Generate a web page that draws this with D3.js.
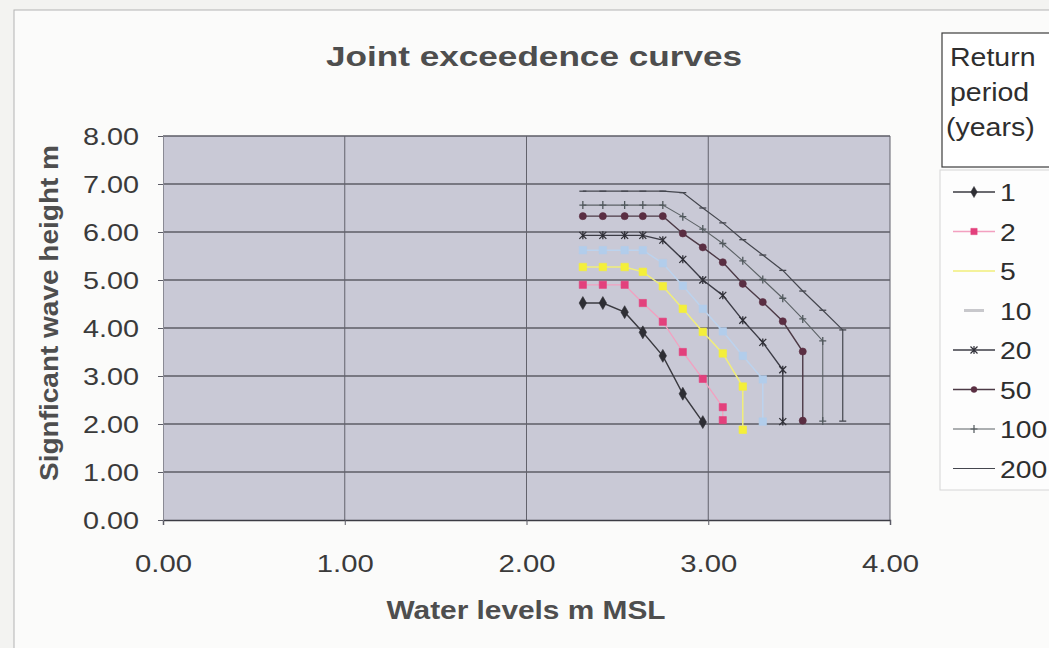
<!DOCTYPE html>
<html>
<head>
<meta charset="utf-8">
<script src="https://cdn.jsdelivr.net/npm/d3@7/dist/d3.min.js"></script>
<style>
  html, body { margin: 0; padding: 0; background: #f3f3f1; }
  svg { display: block; }
  text { font-family: "Liberation Sans", Arial, Helvetica, sans-serif; }
</style>
</head>
<body>
<svg id="chart" width="1049" height="648"></svg>
<script>
// Return periods (years) shown in the legend
const returnPeriods = ["1", "2", "5", "10", "20", "50", "100", "200"];

// Water level (m MSL) and significant wave height (m) for each return period
const rp1_wl   = [2.31, 2.42, 2.54, 2.64, 2.75, 2.86, 2.97];
const rp1_hs   = [4.52, 4.52, 4.33, 3.91, 3.42, 2.63, 2.04];
const rp2_wl   = [2.31, 2.42, 2.54, 2.64, 2.75, 2.86, 2.97, 3.08, 3.08];
const rp2_hs   = [4.90, 4.90, 4.90, 4.52, 4.13, 3.50, 2.94, 2.35, 2.08];
const rp5_wl   = [2.31, 2.42, 2.54, 2.64, 2.75, 2.86, 2.97, 3.08, 3.19, 3.19];
const rp5_hs   = [5.27, 5.27, 5.27, 5.17, 4.87, 4.40, 3.92, 3.47, 2.78, 1.88];
const rp10_wl  = [2.31, 2.42, 2.54, 2.64, 2.75, 2.86, 2.97, 3.08, 3.19, 3.30, 3.30];
const rp10_hs  = [5.62, 5.62, 5.62, 5.62, 5.35, 4.88, 4.40, 3.93, 3.42, 2.93, 2.05];
const rp20_wl  = [2.31, 2.42, 2.54, 2.64, 2.75, 2.86, 2.97, 3.08, 3.19, 3.30, 3.41, 3.41];
const rp20_hs  = [5.93, 5.93, 5.93, 5.93, 5.83, 5.43, 5.00, 4.68, 4.16, 3.70, 3.13, 2.05];
const rp50_wl  = [2.31, 2.42, 2.54, 2.64, 2.75, 2.86, 2.97, 3.08, 3.19, 3.30, 3.41, 3.52, 3.52];
const rp50_hs  = [6.33, 6.33, 6.33, 6.33, 6.33, 5.97, 5.68, 5.37, 4.92, 4.54, 4.14, 3.51, 2.07];
const rp100_wl = [2.31, 2.42, 2.54, 2.64, 2.75, 2.86, 2.97, 3.08, 3.19, 3.30, 3.41, 3.52, 3.63, 3.63];
const rp100_hs = [6.56, 6.56, 6.56, 6.56, 6.56, 6.32, 6.06, 5.76, 5.40, 5.01, 4.62, 4.19, 3.73, 2.06];
const rp200_wl = [2.31, 2.42, 2.54, 2.64, 2.75, 2.86, 2.97, 3.08, 3.19, 3.30, 3.41, 3.52, 3.63, 3.74, 3.74];
const rp200_hs = [6.85, 6.85, 6.85, 6.85, 6.85, 6.82, 6.50, 6.19, 5.84, 5.52, 5.20, 4.77, 4.37, 3.96, 2.06];

// Axis ticks
const xTicks = [0, 1, 2, 3, 4];
const yTicks = [0, 1, 2, 3, 4, 5, 6, 7, 8];

// Per-series drawing style
const seriesStyle = {
  "1":   { line: "#3a3a40", mark: "#2e2e34", shape: "diamond", lw: 1.4, size: 48 },
  "2":   { line: "#f3a0c0", mark: "#e3407c", shape: "square",  lw: 1.3, size: 52 },
  "5":   { line: "#f1ee7a", mark: "#f4ef3a", shape: "square",  lw: 1.5, size: 56 },
  "10":  { line: "#bcd3ee", mark: "#b2cdeb", shape: "square",  lw: 1.5, size: 56 },
  "20":  { line: "#3c3c46", mark: "#303038", shape: "cross",   lw: 1.4, size: 0 },
  "50":  { line: "#4c3a46", mark: "#5a2e42", shape: "circle",  lw: 1.4, size: 40 },
  "100": { line: "#5c6266", mark: "#50585c", shape: "plus",    lw: 1.1, size: 0 },
  "200": { line: "#44464e", mark: "#44464e", shape: "dash",    lw: 1.2, size: 0 }
};

const seriesWl = [rp1_wl, rp2_wl, rp5_wl, rp10_wl, rp20_wl, rp50_wl, rp100_wl, rp200_wl];
const seriesHs = [rp1_hs, rp2_hs, rp5_hs, rp10_hs, rp20_hs, rp50_hs, rp100_hs, rp200_hs];
const series = returnPeriods.map((rp, i) => ({
  rp,
  points: seriesWl[i].map((w, j) => ({ wl: w, hs: seriesHs[i][j] }))
}));

const svg = d3.select("#chart");

// Glyphs in this chart are drawn a little wider than the font's natural width
function widen(sel, k) {
  sel.each(function () {
    const w = this.getComputedTextLength();
    d3.select(this).attr("textLength", w * k).attr("lengthAdjust", "spacingAndGlyphs");
  });
}

// Chart canvas
svg.append("rect").attr("x", 14).attr("y", 10).attr("width", 1040).attr("height", 645)
  .attr("fill", "#fbfbfa").attr("stroke", "#b4b4b4").attr("stroke-width", 1);

const x = d3.scaleLinear().domain([0, 4]).range([163, 890]);
const y = d3.scaleLinear().domain([0, 8]).range([520, 136]);

// Plot area
svg.append("rect")
  .attr("x", x(0)).attr("y", y(8))
  .attr("width", x(4) - x(0)).attr("height", y(0) - y(8))
  .attr("fill", "#c9c9d6");

// Gridlines
svg.append("g").selectAll("line").data(yTicks.slice(1)).join("line")
  .attr("x1", x(0)).attr("x2", x(4))
  .attr("y1", d => y(d)).attr("y2", d => y(d))
  .attr("stroke", "#5c5c66").attr("stroke-width", 1.3);
svg.append("g").selectAll("line").data(xTicks.slice(1)).join("line")
  .attr("x1", d => x(d)).attr("x2", d => x(d))
  .attr("y1", y(8)).attr("y2", y(0))
  .attr("stroke", "#62626c").attr("stroke-width", 1);

// Axes
const fmt = d3.format(".2f");
const gx = svg.append("g").attr("transform", `translate(0,${y(0)})`)
  .call(d3.axisBottom(x).tickValues(xTicks).tickFormat(fmt).tickSize(5).tickPadding(30));
const gy = svg.append("g").attr("transform", `translate(${x(0)},0)`)
  .call(d3.axisLeft(y).tickValues(yTicks).tickFormat(fmt).tickSize(5).tickPadding(19));

[gx, gy].forEach(g => {
  g.select(".domain").attr("stroke", "#3c3c44").attr("stroke-width", 1.4);
  g.selectAll(".tick line").attr("stroke", "#5c5c66");
  g.selectAll(".tick text")
    .attr("fill", "#3a3a3a")
    .style("font-size", "24px")
    .style("font-family", '"Liberation Sans", Arial, sans-serif');
});
gy.select(".domain").attr("stroke", "#8a8a94").attr("stroke-width", 1);
gy.selectAll(".tick text").attr("dy", "0.36em");
widen(gx.selectAll(".tick text"), 1.22);
widen(gy.selectAll(".tick text"), 1.2);

// Marker shapes
function markerPath(shape, size) {
  switch (shape) {
    case "diamond": return d3.symbol(d3.symbolDiamond, size)();
    case "square":  return d3.symbol(d3.symbolSquare, size)();
    case "circle":  return d3.symbol(d3.symbolCircle, size)();
    case "cross":   return "M-3.5,-3.5L3.5,3.5M-3.5,3.5L3.5,-3.5M0,-4L0,4";
    case "plus":    return "M-3.5,0L3.5,0M0,-4L0,4";
    case "dash":    return "M-3.5,0L3.5,0";
  }
}
const strokeShapes = new Set(["cross", "plus", "dash"]);

const line = d3.line().x(d => x(d.wl)).y(d => y(d.hs));

const gSeries = svg.append("g");
series.forEach(s => {
  const st = seriesStyle[s.rp];
  gSeries.append("path").datum(s.points)
    .attr("d", line).attr("fill", "none")
    .attr("stroke", st.line).attr("stroke-width", st.lw);
  gSeries.append("g").selectAll("path").data(s.points).join("path")
    .attr("transform", d => `translate(${x(d.wl)},${y(d.hs)})`)
    .attr("d", markerPath(st.shape, st.size))
    .attr("fill", strokeShapes.has(st.shape) ? "none" : st.mark)
    .attr("stroke", st.mark)
    .attr("stroke-width", strokeShapes.has(st.shape) ? 1.3 : 0.6);
});

// Titles
svg.append("text")
  .attr("x", 534).attr("y", 66).attr("text-anchor", "middle")
  .attr("fill", "#4e4e4e").style("font-size", "28px").style("font-weight", "bold")
  .attr("textLength", 416).attr("lengthAdjust", "spacingAndGlyphs")
  .text("Joint exceedence curves");

svg.append("text")
  .attr("x", 526).attr("y", 619).attr("text-anchor", "middle")
  .attr("fill", "#4e4e4e").style("font-size", "26px").style("font-weight", "bold")
  .attr("textLength", 279).attr("lengthAdjust", "spacingAndGlyphs")
  .text("Water levels m MSL");

svg.append("text")
  .attr("transform", "translate(58,313) rotate(-90)")
  .attr("text-anchor", "middle")
  .attr("fill", "#4e4e4e").style("font-size", "25px").style("font-weight", "bold")
  .attr("textLength", 336).attr("lengthAdjust", "spacingAndGlyphs")
  .text("Signficant wave height m");

// Legend title box
svg.append("rect").attr("x", 942).attr("y", 33).attr("width", 130).attr("height", 134)
  .attr("fill", "#ffffff").attr("stroke", "#3c3c3c").attr("stroke-width", 1.2);
const legTitle = svg.append("g").selectAll("text")
  .data(["Return", "period", "(years)"]).join("text")
  .attr("x", (d, i) => i === 2 ? 946 : 950)
  .attr("y", (d, i) => 66 + i * 35)
  .attr("fill", "#2e2e2e").style("font-size", "25px")
  .text(d => d);
widen(legTitle, 1.14);

// Legend entries
svg.append("rect").attr("x", 940).attr("y", 170).attr("width", 130).attr("height", 320)
  .attr("fill", "#fdfdfd").attr("stroke", "#d6d6d6").attr("stroke-width", 1);
const legend = svg.append("g");
series.forEach((s, i) => {
  const st = seriesStyle[s.rp];
  const ly = 192 + i * 39.5;
  if (s.rp !== "10") {
    legend.append("line").attr("x1", 953).attr("x2", 995).attr("y1", ly).attr("y2", ly)
      .attr("stroke", st.line).attr("stroke-width", st.lw);
  } else {
    legend.append("line").attr("x1", 964).attr("x2", 984).attr("y1", ly).attr("y2", ly)
      .attr("stroke", "#c8c8cc").attr("stroke-width", 3);
  }
  if (s.rp !== "5" && s.rp !== "200" && s.rp !== "10") {
    legend.append("path").attr("transform", `translate(974,${ly})`)
      .attr("d", markerPath(st.shape, Math.max(st.size - 12, 0)))
      .attr("fill", strokeShapes.has(st.shape) ? "none" : st.mark)
      .attr("stroke", st.mark).attr("stroke-width", strokeShapes.has(st.shape) ? 1.2 : 0.5);
  }
  const t = legend.append("text").attr("x", 1000).attr("y", ly + 9)
    .attr("fill", "#2e2e2e").style("font-size", "24px").text(s.rp);
  widen(t, 1.18);
});
</script>
</body>
</html>
